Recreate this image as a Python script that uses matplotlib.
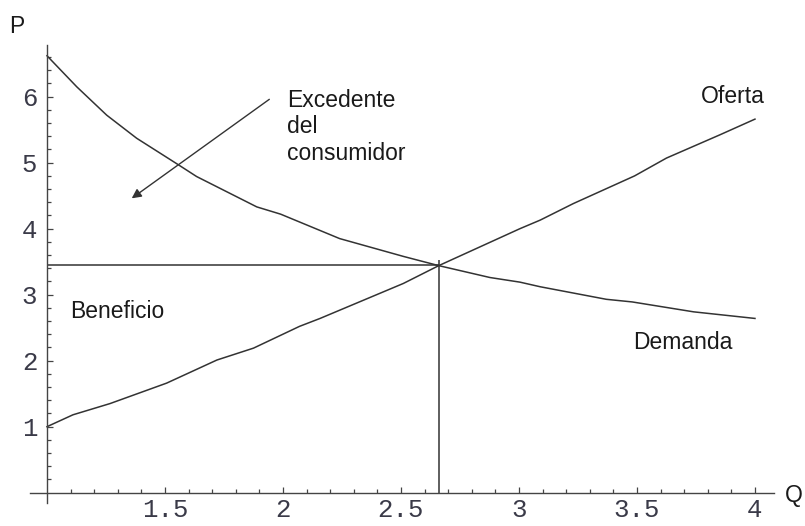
import numpy as np
import matplotlib
matplotlib.use('Agg')
import matplotlib.pyplot as plt
from matplotlib.ticker import FixedLocator

# curves
q_dem = [1.0, 1.126, 1.253, 1.38, 1.556, 1.634, 1.889, 1.99, 2.24, 2.51, 2.66, 2.877, 3.004, 3.09, 3.37, 3.48, 3.74, 4.0]
p_dem = [6.62, 6.15, 5.72, 5.37, 4.97, 4.79, 4.33, 4.22, 3.85, 3.58, 3.44, 3.26, 3.19, 3.12, 2.93, 2.89, 2.74, 2.64]

q_ofe = [1.0, 1.11, 1.267, 1.507, 1.72, 1.875, 2.07, 2.157, 2.51, 2.66, 3.004, 3.09, 3.23, 3.49, 3.625, 3.85, 4.0]
p_ofe = [1.0, 1.18, 1.35, 1.66, 2.01, 2.19, 2.52, 2.64, 3.17, 3.44, 4.0, 4.13, 4.38, 4.80, 5.07, 5.42, 5.66]

q_eq = 2.66
p_eq = 3.45

xticks = [1.5, 2, 2.5, 3, 3.5, 4]
xtick_labels = ['1.5', '2', '2.5', '3', '3.5', '4']
yticks = [1, 2, 3, 4, 5, 6]

line_col = '#333333'
txt_col = '#1a1a1a'

fig = plt.figure(figsize=(8.05, 5.26), dpi=100)
ax = fig.add_axes([0, 0, 1, 1])
ax.set_xlim(0.8008, 4.212)
ax.set_ylim(-0.505, 7.465)

ax.plot(q_dem, p_dem, color=line_col, lw=1.1)
ax.plot(q_ofe, p_ofe, color=line_col, lw=1.1)
ax.hlines(p_eq, 1.0, q_eq, color=line_col, lw=1.1)
ax.vlines(q_eq, 0, p_eq + 0.07, color=line_col, lw=1.1)

# axes through (1, 0)
for s in ['top', 'right']:
    ax.spines[s].set_visible(False)
ax.spines['left'].set_position(('data', 1.0))
ax.spines['bottom'].set_position(('data', 0.0))
ax.spines['left'].set_bounds(-0.16, 6.78)
ax.spines['bottom'].set_bounds(0.93, 4.08)
for s in ['left', 'bottom']:
    ax.spines[s].set_color('#444444')
    ax.spines[s].set_linewidth(1.0)

ax.xaxis.set_major_locator(FixedLocator(xticks))
ax.set_xticklabels(xtick_labels)
ax.xaxis.set_minor_locator(FixedLocator(np.round(np.arange(1.1, 4.01, 0.1), 2)))
ax.yaxis.set_major_locator(FixedLocator(yticks))
ax.yaxis.set_minor_locator(FixedLocator(np.round(np.arange(0.2, 6.61, 0.2), 2)))

ax.tick_params(which='both', direction='in', color='#444444', width=0.9)
ax.tick_params(which='major', length=4.5)
ax.tick_params(which='minor', length=3)
ax.tick_params(axis='x', which='major', pad=4)
ax.tick_params(axis='y', which='major', pad=7)
for lab in ax.get_xticklabels() + ax.get_yticklabels():
    lab.set_fontfamily('Liberation Mono')
    lab.set_fontsize(18.5)
    lab.set_color('#3a3a48')

sans = 'Liberation Sans'
ax.text(0.873, 7.07, 'P', fontsize=16.5, family=sans, color=txt_col, ha='center', va='center')
ax.text(4.165, -0.05, 'Q', fontsize=16.5, family=sans, color=txt_col, ha='center', va='center')
ax.text(2.017, 6.12, 'Excedente\ndel\nconsumidor', fontsize=16.5, family=sans,
        color=txt_col, ha='left', va='top', linespacing=1.2)
ax.text(3.907, 6.01, 'Oferta', fontsize=16.5, family=sans, color=txt_col, ha='center', va='center')
ax.text(3.695, 2.27, 'Demanda', fontsize=16.5, family=sans, color=txt_col, ha='center', va='center')
ax.text(1.097, 2.74, 'Beneficio', fontsize=16.5, family=sans, color=txt_col, ha='left', va='center')

ax.annotate('', xy=(1.359, 4.46), xytext=(1.942, 5.96),
            arrowprops=dict(arrowstyle='-|>', color=line_col, lw=1.0,
                            mutation_scale=14, shrinkA=0, shrinkB=0))

fig.savefig('out.png', dpi=100)
